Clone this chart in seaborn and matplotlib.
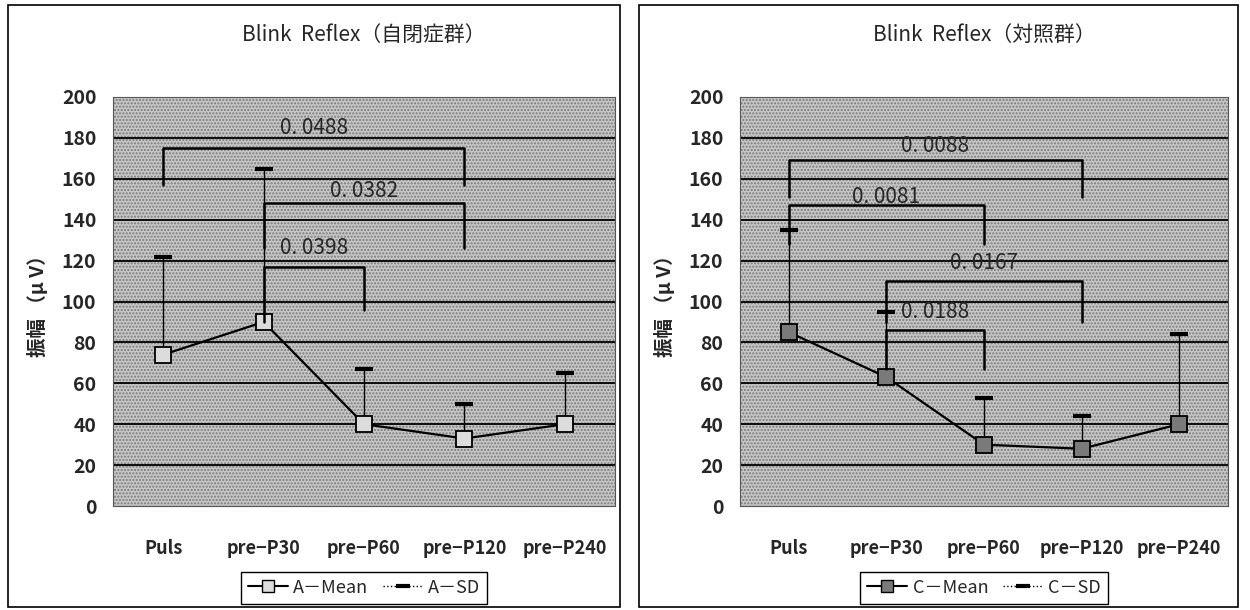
import numpy as np
import seaborn as sns
import matplotlib.pyplot as plt
from matplotlib.lines import Line2D
from matplotlib.patches import Rectangle

categories = ['Puls', 'pre−P30', 'pre−P60', 'pre−P120', 'pre−P240']

autism_mean = [74, 90, 40, 33, 40]
autism_sd_top = [122, 165, 67, 50, 65]
control_mean = [85, 63, 30, 28, 40]
control_sd_top = [135, 95, 53, 44, 84]

# brackets: (from idx, to idx, top, left leg end, right leg end, label, label y)
autism_brackets = [
    (0, 3, 175, 157, 157, '0. 0488', 185),
    (1, 3, 148, 126, 126, '0. 0382', 154),
    (1, 2, 117, 90, 96, '0. 0398', 126),
]
control_brackets = [
    (0, 3, 169, 151, 151, '0. 0088', 176),
    (0, 2, 147, 128, 128, '0. 0081', 151),
    (1, 3, 110, 90, 90, '0. 0167', 119),
    (1, 2, 86, 67, 67, '0. 0188', 95),
]

sns.set_style('white')
plt.rcParams['font.family'] = ['Noto Sans CJK JP', 'DejaVu Sans']

fig = plt.figure(figsize=(12.5, 6.1), dpi=100)
ax1 = fig.add_axes([113 / 1250, 104 / 610, 502 / 1250, 409 / 610])
ax2 = fig.add_axes([740 / 1250, 104 / 610, 488 / 1250, 409 / 610])

# panel frames
for x0, x1 in [(8, 620), (639, 1238)]:
    fig.patches.append(Rectangle((x0 / 1250, 3 / 610), (x1 - x0) / 1250, 602 / 610,
                                 transform=fig.transFigure, fill=False,
                                 edgecolor='black', lw=1.2))


def draw_panel(ax, title, mean, sd_top, brackets, prefix, marker_face):
    x = np.arange(len(categories))
    ax.add_patch(Rectangle((0, 0), 1, 1, transform=ax.transAxes, facecolor='#c6c6c6',
                           hatch='.....', edgecolor='#7a7a7a', lw=0, zorder=0))
    for y in range(20, 200, 20):
        ax.axhline(y, color='black', lw=1.3, zorder=1)

    ax.vlines(x, mean, sd_top, color='black', lw=1, zorder=2)
    sns.scatterplot(x=x, y=sd_top, marker='_', s=180, color='black', linewidth=3,
                    ax=ax, zorder=3)
    sns.lineplot(x=x, y=mean, color='black', lw=1.6, marker='s', markersize=11,
                 markerfacecolor=marker_face, markeredgecolor='black',
                 markeredgewidth=1.3, ax=ax, zorder=4)

    for i0, i1, top, l0, l1, lab, ly in brackets:
        ax.plot([i0, i0, i1, i1], [l0, top, top, l1], color='black', lw=1.8, zorder=5)
        ax.text((i0 + i1) / 2, ly, lab, ha='center', va='center', fontsize=15, zorder=6)

    ax.set_xlim(-0.5, len(categories) - 0.5)
    ax.set_ylim(0, 200)
    ax.set_yticks(range(0, 201, 20))
    ax.set_yticklabels([str(v) for v in range(0, 201, 20)], fontsize=14, fontweight='bold')
    ax.set_xticks(x)
    ax.set_xticklabels(categories, fontsize=13, fontweight='bold')
    ax.set_xticks(np.arange(-0.5, len(categories)), minor=True)
    ax.tick_params(axis='x', which='major', length=0, pad=24)
    ax.tick_params(axis='x', which='minor', length=4, direction='out', color='black')
    ax.tick_params(axis='y', length=0, pad=12)
    for s in ax.spines.values():
        s.set_visible(True)
        s.set_color('#555555')
        s.set_linewidth(0.8)

    ax.set_title(title, fontsize=15, pad=40)
    ax.set_ylabel('振幅 （μ V）', fontsize=14, fontweight='bold', labelpad=10)

    handles = [
        Line2D([], [], color='black', lw=1.5, marker='s', markersize=8,
               markerfacecolor=marker_face, markeredgecolor='black'),
        Line2D([], [], color='black', lw=1, ls=':', marker='_', markersize=10,
               markeredgewidth=3),
    ]
    ax.legend(handles, [prefix + '－Mean', prefix + '－SD'], loc='center',
              bbox_to_anchor=(0.5, -0.2), ncol=2, frameon=True, fancybox=False,
              edgecolor='black', fontsize=13, handlelength=2.2, columnspacing=0.8,
              handletextpad=0.3, borderpad=0.4, framealpha=1)


draw_panel(ax1, 'Blink  Reflex（自閉症群）', autism_mean, autism_sd_top,
           autism_brackets, 'A', '#dcdcdc')
draw_panel(ax2, 'Blink  Reflex（対照群）', control_mean, control_sd_top,
           control_brackets, 'C', '#7a7a7a')

fig.savefig('out.png', dpi=100)
